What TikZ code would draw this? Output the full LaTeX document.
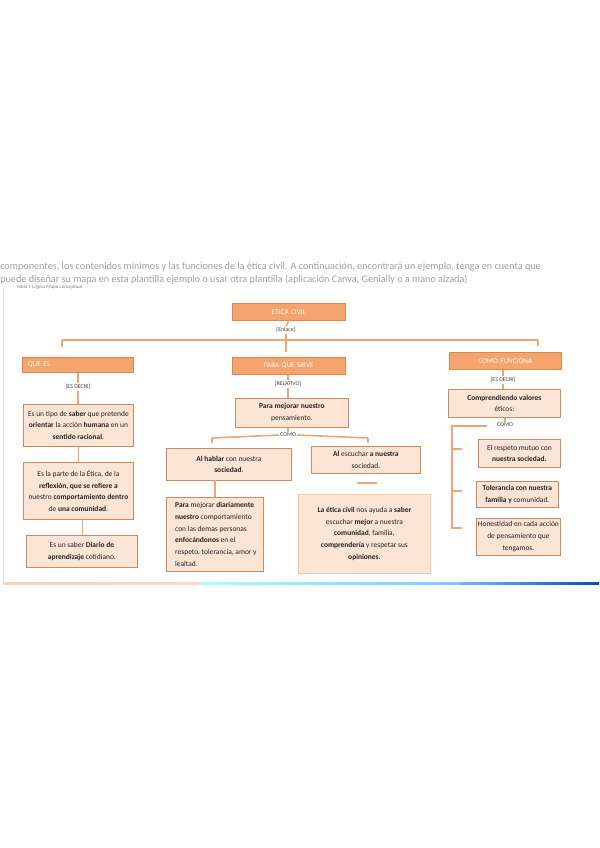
\documentclass[tikz,border=0pt]{standalone}
\usepackage{fontspec}
\setmainfont{Carlito}
\definecolor{hdrfill}{HTML}{F4A46C}
\definecolor{hdrdraw}{HTML}{E0864C}
\definecolor{bxfill}{HTML}{FCE5D5}
\definecolor{bxdraw}{HTML}{C98A5E}
\definecolor{lncol}{HTML}{F0A474}
\definecolor{txt}{HTML}{222222}
\definecolor{gtxt}{HTML}{A0A0A0}
\begin{document}
\hyphenpenalty=10000
\exhyphenpenalty=10000
\begin{tikzpicture}[x=0.75pt,y=-0.75pt,
 hdr/.style={draw=hdrdraw,fill=hdrfill,text=white,font=\fontsize{5.4}{6}\selectfont,inner xsep=2.25pt,inner ysep=0pt,anchor=north west,align=center},
 bxs/.style={draw=bxdraw,line width=0.6pt,fill=bxfill,text=txt,font=\fontsize{5.6}{8.9}\selectfont,inner xsep=1pt,inner ysep=0pt,anchor=north west,align=center},
 lnk/.style={draw=lncol,line width=1.2pt},
 lbl/.style={font=\fontsize{4.4}{5}\selectfont,text=black!75,inner sep=0.6pt,fill=white}
]
\useasboundingbox (0,0) rectangle (599,848);
\fill[white] (0,0) rectangle (599,848);

% header text
\node[anchor=north west,inner sep=0pt,text=gtxt,font=\fontsize{7.65}{9.6}\selectfont,align=left] (intro) at (0,262)
 {componentes, los contenidos mínimos y las funciones de la ética civil. A continuación, encontrará un ejemplo, tenga en cuenta que\\
 puede diseñar su mapa en esta plantilla ejemplo o usar otra plantilla (aplicación Canva, Genially o a mano alzada)};
\node[anchor=north west,inner sep=0pt,text=gray,font=\fontsize{3.8}{4}\itshape] (capt) at (16,285) {Tabla 1 Lógica Mapa conceptual};

% frame
\draw[black!12,line width=0.6pt] (3,290) -- (3,582);
\shade[left color=hdrfill!50,right color=hdrfill!40] (3,582) rectangle (200,584);
\shade[left color=cyan!35,right color=cyan!55!blue!50] (200,582) rectangle (460,584);
\shade[left color=cyan!50!blue!55,right color=blue!55!cyan!70!black] (460,582) rectangle (599,584);

% headers
\node[hdr,text width=84.75pt-4.5pt,minimum height=12.75pt] (etica) at (232,303) {ETICA CIVIL};
\node[hdr,text width=83.25pt-4.5pt,minimum height=11.25pt,align=left] (quees) at (22,357) {\hspace*{2pt}QUE ES};
\node[hdr,text width=84.75pt-4.5pt,minimum height=12.75pt] (para) at (232,357) {PARA QUE SIRVE};
\node[hdr,text width=84pt-4.5pt,minimum height=12.75pt] (como) at (449,352) {COMO FUNCIONA};

% labels
\node[lbl] (enl) at (286,330) {[Enlace]};
\node[lbl] (esd1) at (78,387) {[ES DECIR]};
\node[lbl] (rel) at (288,384) {[RELATIVO]};
\node[lbl] (como1) at (288,435) {COMO};
\node[lbl] (esd2) at (503,380) {[ES DECIR]};
\node[lbl] (como2) at (505,425) {COMO};

% boxes
\node[bxs,minimum width=82.5pt,minimum height=31.5pt] (b1) at (23,404)
 {Es un tipo de \textbf{saber} que pretende\\ \textbf{orientar} la acción \textbf{humana} en un\\ \textbf{sentido racional}.};
\node[bxs,minimum width=82.5pt,minimum height=42.75pt] (b2) at (23,462)
 {Es la parte de la Ética, de la\\ \textbf{reflexión, que se refiere a}\\ nuestro \textbf{comportamiento dentro}\\ de \textbf{una comunidad}.};
\node[bxs,minimum width=83.25pt,minimum height=24pt] (b3) at (26,535)
 {Es un saber \textbf{Diario de}\\ \textbf{aprendizaje} cotidiano.};
\node[bxs,minimum width=84.75pt,minimum height=21.75pt] (p1) at (235,398)
 {\textbf{Para mejorar nuestro}\\ pensamiento.};
\node[bxs,minimum width=93.75pt,minimum height=24pt] (h1) at (166,448)
 {\textbf{Al hablar} con nuestra\\ \textbf{sociedad}.};
\node[bxs,minimum width=81.75pt,minimum height=20.25pt] (e1) at (311,446)
 {\textbf{Al} escuchar \textbf{a nuestra}\\ sociedad.};
\node[bxs,minimum width=72.75pt,minimum height=55.5pt,align=left] (h2) at (166,497)
 {\hspace*{1.5pt}\textbf{Para} mejorar \textbf{diariamente}\\ \hspace*{1.5pt}\textbf{nuestro} comportamiento\\ \hspace*{1.5pt}con las demas personas\\ \hspace*{1.5pt}\textbf{enfocándonos} en el\\ \hspace*{1.5pt}respeto, tolerancia, amor y\\ \hspace*{1.5pt}lealtad.};
\node[bxs,draw=hdrfill!60,minimum width=99pt,minimum height=59.25pt] (e2) at (298,494)
 {\textbf{La ética civil} nos ayuda a \textbf{saber}\\ escuchar \textbf{mejor} a nuestra\\ \textbf{comunidad}, familia,\\ \textbf{comprendería} y respetar sus\\ \textbf{opiniones}.};
\node[bxs,minimum width=84pt,minimum height=21pt] (c1) at (448,389)
 {\textbf{Comprendiendo valores}\\ éticos:};
\node[bxs,minimum width=61.5pt,minimum height=21pt] (r1) at (478,439)
 {El respeto mutuo con\\ \textbf{nuestra sociedad.}};
\node[bxs,minimum width=61.5pt,minimum height=19.5pt] (r2) at (476,481)
 {\textbf{Tolerancia con nuestra}\\ \textbf{familia y} comunidad.};
\node[bxs,minimum width=63pt,minimum height=27.75pt] (r3) at (476,518)
 {Honestidad en cada acción\\ de pensamiento que\\ tengamos.};

% coordinates
\coordinate (busL) at (62,340);
\coordinate (busM) at (286,340);
\coordinate (busR) at (538,340);
\coordinate (tL) at (62,347);
\coordinate (tM) at (286,352);
\coordinate (tR) at (538,346);
\coordinate (cL) at (212,438);
\coordinate (cR) at (368,438);
\coordinate (cLd) at (212,443);
\coordinate (cRd) at (368,443);
\coordinate (h1d) at (215,480);
\coordinate (h2u) at (215,497);
\coordinate (d1) at (357,483);
\coordinate (d2) at (377,483);
\coordinate (k0) at (487,426);
\coordinate (k1) at (452,426);
\coordinate (k2) at (452,528);
\coordinate (ka) at (452,449);
\coordinate (kb) at (452,491);
\coordinate (kat) at (462,449);
\coordinate (kbt) at (462,491);
\coordinate (kct) at (462,528);

% connectors
\draw[lnk] (etica.south) -- (enl.north);
\draw[lnk] (enl.south) -- (busM);
\draw[lnk] (busL) -- (busR);
\draw[lnk] (busL) -- (tL);
\draw[lnk] (busM) -- (tM);
\draw[lnk] (busR) -- (tR);
\draw[lnk] (quees.south -| esd1) -- (esd1.north);
\draw[lnk] (esd1.south) -- (esd1.south |- b1.north);
\draw[lnk] (b1.south) -- (b1.south |- b2.north);
\draw[lnk] (b2.south) ++(4,0) coordinate (b2s) -- (b2s |- b3.north);
\draw[lnk] (para.south -| rel) -- (rel.north);
\draw[lnk] (rel.south) -- (rel.south |- p1.north);
\draw[lnk] (p1.south -| como1) -- (como1.north);
\draw[lnk] (cL) -- (como1.west);
\draw[lnk] (como1.east) -- (cR);
\draw[lnk] (cL) -- (cLd);
\draw[lnk] (cR) -- (cRd);
\draw[lnk] (h1d) -- (h2u);
\draw[lnk] (d1) -- (d2);
\draw[lnk] (como.south -| esd2) -- (esd2.north);
\draw[lnk] (esd2.south) -- (esd2.south |- c1.north);
\draw[lnk] (c1.south -| como2) -- (como2.north);
\draw[lnk] (k0) -- (k1) -- (k2) -- (kct);
\draw[lnk] (ka) -- (kat);
\draw[lnk] (kb) -- (kbt);
\end{tikzpicture}
\end{document}
